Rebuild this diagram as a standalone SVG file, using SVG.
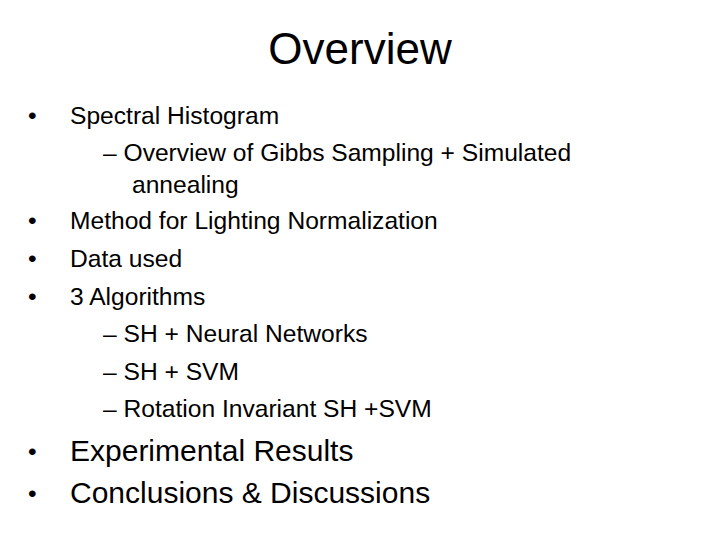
<svg xmlns="http://www.w3.org/2000/svg" width="720" height="540" viewBox="0 0 720 540">
<style>
text{font-family:"Liberation Sans",Arial,sans-serif;fill:#000}
.t{font-size:44px}
.b{font-size:24.6px}
.l{font-size:30px}
</style>
<rect width="720" height="540" fill="#fff"/>
<text class="t" x="360" y="64" text-anchor="middle">Overview</text>
<text class="b" x="28" y="124">•</text><text class="b" x="70" y="124">Spectral Histogram</text>
<text class="b" x="103" y="161">– Overview of Gibbs Sampling + Simulated</text>
<text class="b" x="132" y="193">annealing</text>
<text class="b" x="28" y="229">•</text><text class="b" x="70" y="229">Method for Lighting Normalization</text>
<text class="b" x="28" y="267">•</text><text class="b" x="70" y="267">Data used</text>
<text class="b" x="28" y="305">•</text><text class="b" x="70" y="305">3 Algorithms</text>
<text class="b" x="103" y="342">– SH + Neural Networks</text>
<text class="b" x="103" y="380">– SH + SVM</text>
<text class="b" x="103" y="417">– Rotation Invariant SH +SVM</text>
<text class="b" x="28" y="460">•</text><text class="l" x="70" y="461">Experimental Results</text>
<text class="b" x="28" y="502">•</text><text class="l" x="70" y="503">Conclusions &amp; Discussions</text>
</svg>
